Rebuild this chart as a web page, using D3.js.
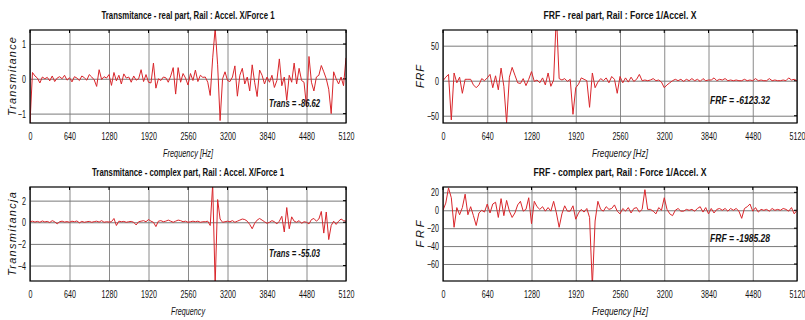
<!DOCTYPE html>
<html>
<head>
<meta charset="utf-8">
<script src="https://cdn.jsdelivr.net/npm/d3@7"></script>
<style>
  body { margin: 0; background: #fff; }
  text { font-family: "Liberation Sans", Arial, sans-serif; fill: #111; }
</style>
</head>
<body>
<svg id="chart" width="805" height="320"></svg>
<script>
// spectra sampled every 40 Hz, 0..5120 Hz (129 points each)
const freqStep = 40;
const freqTicks = [0, 640, 1280, 1920, 2560, 3200, 3840, 4480, 5120];

const transReal = [
  -1.27, 0.18, 0.08, 0.02, -0.12, 0.05, 0.0, 0.04, -0.06, 0.08,
  -0.08, 0.02, 0.06, 0.0, 0.1, -0.04, 0.03, -0.09, 0.06, 0.02,
  -0.05, 0.08, 0.03, -0.04, 0.12, 0.05, -0.03, -0.22, 0.26, -0.02,
  0.06, 0.02, 0.12, -0.19, 0.18, -0.06, 0.1, -0.15, 0.14, 0.02,
  0.05, -0.1, 0.08, -0.04, 0.0, 0.26, -0.08, 0.12, -0.1, -0.12,
  0.45, -0.27, 0.0, -0.05, 0.05, 0.03, -0.1, 0.08, 0.32, -0.44,
  0.32, -0.1, 0.15, 0.02, -0.18, 0.15, -0.05, 0.25, -0.08, 0.1,
  0.04, 0.05, -0.1, -0.48, 0.6, 1.45, 0.4, -1.2, 0.0, 0.2,
  -0.05, -0.08, 0.05, 0.37, -0.5, 0.1, 0.3, -0.15, 0.05, -0.35,
  0.4, -0.1, -0.51, 0.25, 0.1, -0.15, 0.05, -0.1, 0.1, -0.25,
  -0.05, 0.57, -0.2, 0.05, -0.62, 0.1, -0.1, 0.45, -0.15, 0.3,
  -0.05, -0.1, -0.8, 0.64, -0.1, -0.35, 0.05, 0.1, 0.38, 0.2,
  0.0, -0.3, -1.0, 0.2, 0.0, -0.15, 0.05, -0.2, 0.6
];

const frfReal = [
  0, 5, 9, -56, 11, -3, 5, -18, 2, 2,
  2, -6, -10, -6, 3, 0, 4, 9, -10, 7,
  -13, 18, -8, -60, 5, 19, 8, -3, -4, 3,
  -7, 2, 13, -1, 1, -3, 4, -6, 11, -8,
  1, 95, 3, 1, 3, -1, 2, -48, -10, -5,
  4, 2, 0, -38, 11, -10, -2, 3, 0, 4,
  -3, 6, 2, -18, 6, -3, 4, -2, 5, -1,
  2, 9, 0, 1, 0, 1, 3, 0, 1, -2,
  -10, -6, -3, 0, 2, 0, 2, -1, 2, 0,
  3, 0, 2, -1, 3, 0, 1, 1, 4, 0,
  2, 1, 3, 0, 1, 0, 1, 0, 0, 2,
  0, 1, 0, 3, 0, 1, 0, 0, 3, 0,
  1, 0, 0, 1, 0, 4, 1, 2, 0
];

const transImag = [
  0.05, 0.1, 0.02, 0.08, 0.0, 0.12, 0.03, 0.08, -0.02, 0.15,
  0.05, -0.15, 0.05, 0.1, 0.02, 0.06, 0.0, 0.1, 0.05, 0.12,
  -0.05, 0.08, 0.0, 0.05, 0.08, 0.0, 0.06, 0.1, 0.02, 0.15,
  0.0, 0.05, 0.02, 0.05, 0.35, -0.3, 0.1, 0.05, 0.08, 0.0,
  0.05, 0.08, 0.0, -0.25, 0.05, 0.1, 0.15, 0.05, 0.25, 0.1,
  0.0, -0.4, 0.1, 0.15, 0.05, 0.1, 0.2, 0.1, 0.0, 0.1,
  0.2, 0.15, 0.05, 0.1, 0.0, 0.05, 0.1, 0.05, 0.1, 0.0,
  0.05, 0.05, 0.1, -0.3, 3.5, -5.8, 2.1, 0.3, 0.0, 0.05,
  0.1, 0.05, 0.15, 0.0, 0.1, 0.2, 0.3, 0.25, 0.1, -0.2,
  -0.6, -0.1, 0.2, 0.35, 0.2, 0.05, -0.1, 0.0, 0.15, 0.05,
  -0.15, 0.1, 0.55, -0.9, 1.36, -0.6, 0.5, 0.1, 0.0, 0.15,
  -0.1, 0.05, 0.0, -0.15, 0.25, 0.35, 0.1, 0.3, 1.0, -1.0,
  0.95, -1.6, -0.3, 0.1, -0.2, 0.1, 0.3, 0.15, 0.1
];

const frfImag = [
  0, 8, 25, 14, -19, 3, -5, 3, 18, -5,
  4, -6, -17, -3, 0, -2, 7, -3, 7, 9,
  -8, 13, -6, 11, -1, -8, -3, 6, 10, -1,
  1, 14, -15, 10, 4, 1, 4, -1, 3, -1,
  10, -3, -19, -4, 5, -1, -1, 5, -10, -3,
  1, -2, 2, -8, -85, -12, 10, 1, -1, 4,
  1, 2, 6, -1, -4, 2, -1, 3, -3, 2,
  3, -2, 1, 23, 1, 1, -1, -4, 3, 0,
  14, 1, -4, -6, 0, 2, -1, -1, 1, 0,
  1, -1, 2, 4, -2, 3, -4, 2, -3, 1,
  2, 0, 2, -1, 2, 0, 2, -1, -9, 2,
  4, 7, -1, 3, -2, 1, 0, 1, -1, 2,
  0, 1, 0, 2, 1, -1, 3, -4, 0
];

const titles = [
  "Transmitance - real part, Rail : Accel. X/Force 1",
  "FRF - real part, Rail : Force 1/Accel. X",
  "Transmitance - complex part, Rail : Accel. X/Force 1",
  "FRF - complex part, Rail : Force 1/Accel. X"
];
const yLabels = ["Transmitance", "FRF", "Transmitancja", "FRF"];
const xLabels = ["Frequency [Hz]", "Frequency [Hz]", "Frequency", "Frequency [Hz]"];
const notes = ["Trans = -86.62", "FRF = -6123.32", "Trans = -55.03", "FRF = -1985.28"];
const yTicks = [[-1, 0, 1], [-50, 0, 50], [-4, -2, 0, 2], [-60, -40, -20, 0, 20]];
const yDomains = [[-1.27, 1.4], [-60.4, 72.4], [-5.43, 3.26], [-79, 26]];
const series = [transReal, frfReal, transImag, frfImag];

// layout of the four panels
const boxes = [
  { left: 30, top: 30, w: 316, h: 93, titleW: 173, yLabW: 79, xLabW: 50, noteX: 269, noteY: 107, noteW: 51 },
  { left: 443, top: 30, w: 354, h: 93, titleW: 153, yLabW: 23, xLabW: 56, noteX: 710, noteY: 104, noteW: 60 },
  { left: 30, top: 187, w: 316, h: 94, titleW: 192, yLabW: 84, xLabW: 34, noteX: 269, noteY: 257, noteW: 51 },
  { left: 443, top: 187, w: 354, h: 94, titleW: 173, yLabW: 27, xLabW: 56, noteX: 710, noteY: 242, noteW: 60 }
];

const svg = d3.select("#chart");
const sx = 0.68;
const cond = `scale(${sx},1)`;

boxes.forEach((b, k) => {
  const g = svg.append("g").attr("transform", `translate(${b.left},${b.top})`);

  const x = d3.scaleLinear().domain([0, 5120]).range([0, b.w]);
  const y = d3.scaleLinear().domain(yDomains[k]).range([b.h, 0]);

  // grid
  g.append("g")
    .attr("transform", `translate(0,${b.h})`)
    .call(d3.axisBottom(x).tickValues(freqTicks).tickSize(-b.h).tickFormat(""))
    .call(s => s.select(".domain").remove())
    .call(s => s.selectAll("line").attr("stroke", "#8a8a8a"));
  g.append("g")
    .call(d3.axisLeft(y).tickValues(yTicks[k]).tickSize(-b.w).tickFormat(""))
    .call(s => s.select(".domain").remove())
    .call(s => s.selectAll("line").attr("stroke", "#7a7a7a"));

  // tick labels
  const xa = g.append("g")
    .attr("transform", `translate(0,${b.h})`)
    .call(d3.axisBottom(x).tickValues(freqTicks).tickSize(0).tickFormat(d3.format("d")));
  xa.select(".domain").remove();
  xa.selectAll("text")
    .attr("y", 17).attr("dy", 0)
    .attr("font-size", 10.5)
    .attr("font-family", "Liberation Sans, Arial, sans-serif")
    .attr("fill", "#111")
    .attr("transform", cond);

  const ya = g.append("g")
    .call(d3.axisLeft(y).tickValues(yTicks[k]).tickSize(0).tickFormat(d3.format("d")));
  ya.select(".domain").remove();
  ya.selectAll("text")
    .attr("x", -4 / sx).attr("dy", "0.34em")
    .attr("font-size", 10.5)
    .attr("font-family", "Liberation Sans, Arial, sans-serif")
    .attr("fill", "#111")
    .attr("transform", cond);

  // short inner ticks on the frame
  g.append("g").selectAll("line").data(freqTicks).join("line")
    .attr("x1", d => x(d)).attr("x2", d => x(d)).attr("y1", 0).attr("y2", 3)
    .attr("stroke", "#000");
  g.append("g").selectAll("line").data(yTicks[k]).join("line")
    .attr("x1", b.w).attr("x2", b.w - 3).attr("y1", d => y(d)).attr("y2", d => y(d))
    .attr("stroke", "#000");

  // data line
  const clipId = "clip" + k;
  g.append("clipPath").attr("id", clipId)
    .append("rect").attr("width", b.w).attr("height", b.h);

  const line = d3.line()
    .x((d, i) => x(i * freqStep))
    .y(d => y(d));

  g.append("path")
    .datum(series[k])
    .attr("clip-path", `url(#${clipId})`)
    .attr("fill", "none")
    .attr("stroke", "#d9262b")
    .attr("stroke-width", 1)
    .attr("stroke-linejoin", "round")
    .attr("d", line);

  // frame
  g.append("rect")
    .attr("width", b.w).attr("height", b.h)
    .attr("fill", "none").attr("stroke", "#000").attr("stroke-width", 1.2);

  // title
  g.append("text")
    .attr("x", b.w / 2 - b.titleW / 2).attr("y", -11.5)
    .attr("font-size", 10.5).attr("font-weight", "bold")
    .attr("textLength", b.titleW).attr("lengthAdjust", "spacingAndGlyphs")
    .text(titles[k]);

  // x label
  g.append("text")
    .attr("x", b.w / 2 - b.xLabW / 2).attr("y", b.h + 34)
    .attr("font-size", 10.5).attr("font-style", "italic")
    .attr("textLength", b.xLabW).attr("lengthAdjust", "spacingAndGlyphs")
    .text(xLabels[k]);

  // y label
  g.append("text")
    .attr("transform", `translate(${k % 2 ? -19.5 : -14},${b.h / 2 + b.yLabW / 2}) rotate(-90)`)
    .attr("font-size", 11).attr("font-style", "italic")
    .attr("textLength", b.yLabW).attr("lengthAdjust", "spacing")
    .text(yLabels[k]);

  // annotation
  svg.append("text")
    .attr("x", b.noteX).attr("y", b.noteY)
    .attr("font-size", 10.5).attr("font-weight", "bold").attr("font-style", "italic")
    .attr("textLength", b.noteW).attr("lengthAdjust", "spacingAndGlyphs")
    .text(notes[k]);
});
</script>
</body>
</html>
